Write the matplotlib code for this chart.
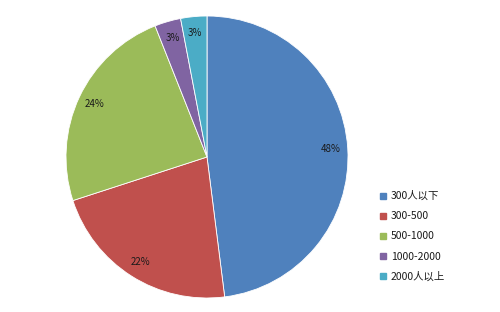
import matplotlib
matplotlib.use("Agg")
import matplotlib.pyplot as plt
from matplotlib.lines import Line2D

plt.rcParams['font.family'] = ['Noto Sans CJK SC', 'DejaVu Sans']

categories = ["300人以下", "300-500", "500-1000", "1000-2000", "2000人以上"]
values = [48, 22, 24, 3, 3]
colors = ["#4F81BD", "#C0504D", "#9BBB59", "#8064A2", "#4BACC6"]

fig = plt.figure(figsize=(5, 3.12), dpi=100)
cx, cy, r = 207, 157, 141
ax = fig.add_axes([(cx - r) / 500, (312 - cy - r) / 312, 2 * r / 500, 2 * r / 312])
wedges, texts, autotexts = ax.pie(
    values, colors=colors, startangle=90, counterclock=False,
    autopct=lambda p: f"{p:.0f}%", pctdistance=0.88,
    wedgeprops=dict(edgecolor="white", linewidth=0.6),
    textprops=dict(fontsize=7, color="#1a1a1a"))
ax.set_xlim(-1, 1)
ax.set_ylim(-1, 1)
ax.set_aspect("equal")

handles = [Line2D([0], [0], marker="s", linestyle="none", markersize=4.2,
                  markerfacecolor=c, markeredgecolor=c) for c in colors]
fig.legend(handles, categories, loc="upper left",
           bbox_to_anchor=(380 / 500, 1 - 191 / 312), frameon=False,
           fontsize=7.5, handlelength=0.6, handletextpad=0.45,
           labelspacing=0.97, borderaxespad=0, borderpad=0,
           labelcolor="#1a1a1a")

fig.savefig("out.png", dpi=100, facecolor="white")
